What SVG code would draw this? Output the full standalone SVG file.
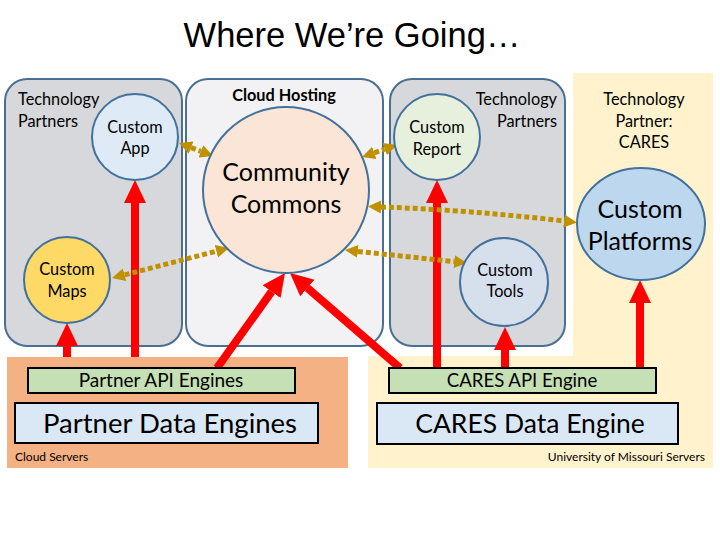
<svg xmlns="http://www.w3.org/2000/svg" width="720" height="540" viewBox="0 0 720 540">
<style>
text{font-family:Lato,"Noto Sans",sans-serif;fill:#000}
.t15{font-size:16.3px}
.t24{font-size:25px}
.mid{text-anchor:middle}
.small{font-size:12px}
.panel{stroke:#4a6f94;stroke-width:2}
.circ{stroke:#41719c;stroke-width:2}
.box{stroke:#000;stroke-width:2}
.red{stroke:#ff0000;stroke-width:8;fill:none;marker-end:url(#rh)}
.gold{stroke:#bf9000;stroke-width:5;stroke-dasharray:5 3;fill:none;marker-start:url(#gh);marker-end:url(#gh)}
</style>
<defs>
<marker id="rh" markerUnits="userSpaceOnUse" markerWidth="24" markerHeight="24" refX="0" refY="11" orient="auto"><path d="M0,0 L23,11 L0,22 Z" fill="#ff0000"/></marker>
<marker id="gh" markerUnits="userSpaceOnUse" markerWidth="14" markerHeight="14" refX="0" refY="6.5" orient="auto-start-reverse"><path d="M0,0 L13,6.5 L0,13 Z" fill="#bf9000"/></marker>
</defs>
<rect width="720" height="540" fill="#fff"/>
<text x="352" y="47" class="mid" style="font-family:'Liberation Sans',Arial,sans-serif;font-size:34.5px">Where We’re Going…</text>

<g id="cares-area"><path d="M573,73 H713 V468 H368 V356 H573 Z" fill="#fff2cc"/></g>
<g id="cloud-servers"><rect x="7" y="357" width="341" height="111" fill="#f4b183"/><text x="15" y="461" class="small">Cloud Servers</text></g>
<g id="univ-servers"><text x="705" y="461" class="small" text-anchor="end">University of Missouri Servers</text></g>

<g id="panel-left"><rect x="5" y="79" width="177" height="267" rx="22" fill="#d7d8db" class="panel"/><text x="18" y="105" class="t15">Technology</text><text x="18" y="127" class="t15">Partners</text></g>
<g id="panel-cloud"><rect x="186" y="79" width="197" height="267" rx="22" fill="#f2f2f4" class="panel"/><text x="284" y="101" class="t15 mid" font-weight="bold">Cloud Hosting</text></g>
<g id="panel-right"><rect x="390" y="79" width="175" height="267" rx="22" fill="#d7d8db" class="panel"/><text x="557" y="105" class="t15" text-anchor="end">Technology</text><text x="557" y="127" class="t15" text-anchor="end">Partners</text></g>
<g id="cares-label"><text x="644" y="105" class="t15 mid">Technology</text><text x="644" y="127" class="t15 mid">Partner:</text><text x="644" y="148" class="t15 mid">CARES</text></g>

<g id="connectors">
<line x1="67" y1="357" x2="67" y2="346" class="red"/>
<line x1="135" y1="357" x2="135" y2="203" class="red"/>
<line x1="217" y1="368" x2="271.6" y2="291.7" class="red"/>
<line x1="400" y1="368" x2="307.4" y2="288" class="red"/>
<line x1="437" y1="368" x2="437" y2="203" class="red"/>
<line x1="505" y1="368" x2="505" y2="350" class="red"/>
<line x1="640" y1="368" x2="640" y2="303" class="red"/>
<line x1="191.1" y1="147.6" x2="200.9" y2="151.4" class="gold"/>
<line x1="124.6" y1="274.8" x2="216.4" y2="251.2" class="gold"/>
<line x1="374.3" y1="152.8" x2="384.7" y2="149.2" class="gold"/>
<path d="M381,207 Q470,210 564,221" class="gold"/>
<line x1="357.9" y1="251.4" x2="454.1" y2="261.6" class="gold"/>
</g>

<g id="custom-app"><circle cx="135" cy="137" r="43" fill="#deebf7" class="circ"/><text x="135" y="133" class="t15 mid">Custom</text><text x="135" y="154" class="t15 mid">App</text></g>
<g id="custom-maps"><circle cx="67" cy="280" r="43" fill="#ffd966" class="circ"/><text x="67" y="275" class="t15 mid">Custom</text><text x="67" y="297" class="t15 mid">Maps</text></g>
<g id="community-commons"><circle cx="286" cy="190" r="83" fill="#fbe5d6" class="circ"/><text x="286" y="181" class="t24 mid">Community</text><text x="286" y="213" class="t24 mid">Commons</text></g>
<g id="custom-report"><circle cx="437" cy="137" r="43" fill="#e7f0dc" class="circ"/><text x="437" y="133" class="t15 mid">Custom</text><text x="437" y="155" class="t15 mid">Report</text></g>
<g id="custom-tools"><circle cx="504" cy="282" r="44" fill="#d6dfec" class="circ"/><text x="505" y="276" class="t15 mid">Custom</text><text x="505" y="297" class="t15 mid">Tools</text></g>
<g id="custom-platforms"><ellipse cx="641" cy="224" rx="64" ry="56" fill="#bdd7ee" class="circ"/><text x="640" y="218" class="t24 mid">Custom</text><text x="640" y="250" class="t24 mid">Platforms</text></g>

<g id="partner-api"><rect x="28" y="368" width="267" height="25" fill="#c5e0b4" class="box"/><text x="161" y="387" class="mid" style="font-size:19px">Partner API Engines</text></g>
<g id="partner-data"><rect x="15" y="403" width="303" height="40" fill="#dae8f5" class="box"/><text x="170" y="433" class="mid" style="font-size:27.5px">Partner Data Engines</text></g>
<g id="cares-api"><rect x="389" y="368" width="267" height="25" fill="#c5e0b4" class="box"/><text x="522" y="387" class="mid" style="font-size:18.6px">CARES API Engine</text></g>
<g id="cares-data"><rect x="377" y="403" width="301" height="41" fill="#dae8f5" class="box"/><text x="530" y="433" class="mid" style="font-size:26.5px">CARES Data Engine</text></g>
</svg>
